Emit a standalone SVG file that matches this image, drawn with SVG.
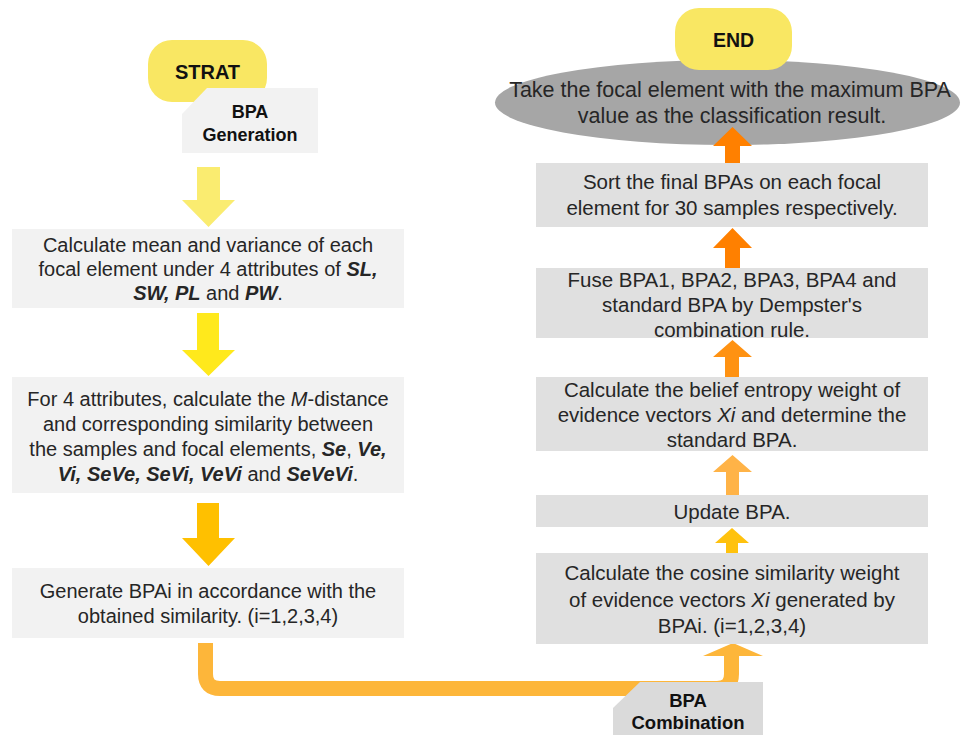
<svg xmlns="http://www.w3.org/2000/svg" width="961" height="735" viewBox="0 0 961 735">
<style>
text{font-family:"Liberation Sans",Arial,sans-serif;fill:#262626;text-anchor:middle}
.l{font-size:20px}
.r{font-size:20.5px}
.e{font-size:21.5px}
.h{font-weight:bold;fill:#111}
.bi{font-weight:bold;font-style:italic}
.i{font-style:italic}
.lb{fill:#F2F2F2}
.rb{fill:#E0E0E0}
.term{fill:#F9E763}
</style>
<rect width="961" height="735" fill="#FFFFFF"/>

<g id="connectors">
<path id="a-gen-box1" d="M197,167 H220 V200 H235 L208.5,227 L182,200 H197 Z" fill="#FAEC70"/>
<path id="a-box1-box2" d="M197,313 H219 V350 H235 L208.5,376 L182,350 H197 Z" fill="#FFE91C"/>
<path id="a-box2-box3" d="M197,503 H219 V538 H235 L208.5,566 L182,538 H197 Z" fill="#FFC000"/>
<path id="a-box3-cos" d="M205.5,643 V674 Q205.5,688.5 220,688.5 H717 Q731.5,688.5 731.5,674 V654" fill="none" stroke="#FDB63A" stroke-width="15"/>
<path id="a-box3-cos-head" d="M703,656 H763 L733,643 Z" fill="#FDB63A"/>
<path id="a-cos-upd" d="M726,553 V543 H715 L732,528 L749,543 H738 V553 Z" fill="#FFC20E"/>
<path id="a-upd-bel" d="M726,495 V472 H713 L732.5,455 L752,472 H739 V495 Z" fill="#FFB347"/>
<path id="a-bel-fuse" d="M725,377 V357 H713 L732.5,340 L752,357 H739 V377 Z" fill="#FF9212"/>
<path id="a-fuse-sort" d="M725,268 V248 H713 L732.5,228 L752,248 H740 V268 Z" fill="#FF8000"/>
</g>

<g id="node-start">
<rect x="148" y="40" width="119" height="62" rx="24" class="term"/>
<text x="207.5" y="79" class="h" style="font-size:20px">STRAT</text>
</g>

<g id="node-bpa-generation">
<path d="M207,88 H318 V153 H182 V114 Z" class="lb"/>
<text x="250" y="118" class="h" style="font-size:18px">BPA</text>
<text x="250" y="141" class="h" style="font-size:18px">Generation</text>
</g>

<g id="node-mean-variance">
<rect x="12" y="229" width="392" height="79" class="lb"/>
<text class="l"><tspan x="208" y="252">Calculate mean and variance of each</tspan><tspan x="208" y="276">focal element under 4 attributes of <tspan class="bi">SL,</tspan></tspan><tspan x="208" y="300"><tspan class="bi">SW, PL</tspan> and <tspan class="bi">PW</tspan>.</tspan></text>
</g>

<g id="node-m-distance">
<rect x="12" y="377" width="392" height="116" class="lb"/>
<text class="l"><tspan x="208" y="406">For 4 attributes, calculate the <tspan class="i">M</tspan>-distance</tspan><tspan x="208" y="431">and corresponding similarity between</tspan><tspan x="208" y="456">the samples and focal elements, <tspan class="bi">Se</tspan>, <tspan class="bi">Ve,</tspan></tspan><tspan x="208" y="481"><tspan class="bi">Vi, SeVe, SeVi, VeVi</tspan> and <tspan class="bi">SeVeVi</tspan>.</tspan></text>
</g>

<g id="node-generate-bpai">
<rect x="12" y="568" width="392" height="70" class="lb"/>
<text class="l"><tspan x="208" y="598">Generate BPAi in accordance with the</tspan><tspan x="208" y="623">obtained similarity. (i=1,2,3,4)</tspan></text>
</g>

<g id="node-cosine">
<rect x="536" y="553" width="392" height="91" class="rb"/>
<text class="r"><tspan x="732" y="580">Calculate the cosine similarity weight</tspan><tspan x="732" y="607">of evidence vectors <tspan class="i">Xi</tspan> generated by</tspan><tspan x="732" y="633">BPAi. (i=1,2,3,4)</tspan></text>
</g>

<g id="node-update">
<rect x="536" y="495" width="392" height="32" class="rb"/>
<text class="r" x="732" y="519">Update BPA.</text>
</g>

<g id="node-belief">
<rect x="536" y="377" width="392" height="74" class="rb"/>
<text class="r"><tspan x="732" y="397">Calculate the belief entropy weight of</tspan><tspan x="732" y="422">evidence vectors <tspan class="i">Xi</tspan> and determine the</tspan><tspan x="732" y="447">standard BPA.</tspan></text>
</g>

<g id="node-fuse">
<rect x="536" y="268" width="392" height="70" class="rb"/>
<text class="r"><tspan x="732" y="287">Fuse BPA1, BPA2, BPA3, BPA4 and</tspan><tspan x="732" y="312">standard BPA by Dempster's</tspan><tspan x="732" y="337">combination rule.</tspan></text>
</g>

<g id="node-sort">
<rect x="536" y="163" width="392" height="64" class="rb"/>
<text class="r"><tspan x="732" y="189">Sort the final BPAs on each focal</tspan><tspan x="732" y="215">element for 30 samples respectively.</tspan></text>
</g>

<g id="node-result">
<ellipse cx="727.5" cy="102.5" rx="232.5" ry="42.5" fill="#A6A6A6"/>
<text class="e"><tspan x="730" y="97">Take the focal element with the maximum BPA</tspan><tspan x="732" y="123">value as the classification result.</tspan></text>
</g>

<g id="node-end">
<rect x="675" y="8" width="117" height="62" rx="24" class="term"/>
<text x="733.5" y="47" class="h" style="font-size:19.5px">END</text>
</g>

<path id="a-sort-result" d="M725,163 V146 H713 L732.5,127 L752,146 H740 V163 Z" fill="#FF8000"/>

<g id="node-bpa-combination">
<path d="M640,682 H763 V735 H613 V708 Z" fill="#DADADA"/>
<text x="688" y="707" class="h" style="font-size:18.5px">BPA</text>
<text x="688" y="729" class="h" style="font-size:18.5px">Combination</text>
</g>
</svg>
